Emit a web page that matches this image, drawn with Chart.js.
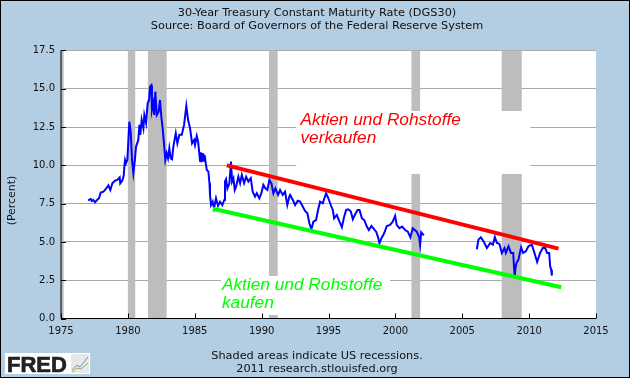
<!DOCTYPE html>
<html>
<head>
<meta charset="utf-8">
<title>30-Year Treasury Constant Maturity Rate</title>
<script src="https://cdn.jsdelivr.net/npm/chart.js@4"></script>
<style>
  body { margin: 0; background: #b3cde3; }
  #wrap { position: relative; width: 630px; height: 378px; overflow: hidden; background: #b3cde3; }
  #frame { position: absolute; left: 0; top: 0; width: 630px; height: 378px; box-sizing: border-box; border: 1px solid #000; pointer-events: none; }
  canvas { position: absolute; left: 0; top: 0; }
  .foot { position: absolute; left: 4px; width: 626px; text-align: center; font: 11.3px "DejaVu Sans"; color: #111; line-height: 13px; }
  #logo { position: absolute; left: 5px; top: 353px; width: 85px; height: 21px; background: #fff; }
  #logo span { position: absolute; left: 2px; top: -1px; font: bold 22px "Liberation Sans"; color: #222; -webkit-text-stroke: 0.7px #222; }
  #logo svg { position: absolute; left: 66px; top: 1px; }
</style>
</head>
<body>
<div id="wrap">
  <canvas id="chart" width="630" height="378"></canvas>
  <div class="foot" style="top:349px">Shaded areas indicate US recessions.</div>
  <div class="foot" style="top:362px">2011 research.stlouisfed.org</div>
  <div id="logo"><span>FRED</span>
    <svg width="18" height="19"><rect width="18" height="19" fill="#e8e8e8"/><polyline points="1,16 6,11 9,13 17,3" fill="none" stroke="#7f93ad"/><polyline points="1,18 6,14 10,15 17,9" fill="none" stroke="#8fae6a"/></svg>
  </div>
  <div id="frame"></div>
</div>
<script>
//Titles
const titleLines = [
  "30-Year Treasury Constant Maturity Rate (DGS30)",
  "Source: Board of Governors of the Federal Reserve System",
];

//30-year rate (null = series not published)
const rateYears = [
  1977.04, 1977.14, 1977.22, 1977.3, 1977.4, 1977.54, 1977.64, 1977.84, 1977.97, 1978.17,
  1978.34, 1978.54, 1978.69, 1978.84, 1979.04, 1979.21, 1979.39, 1979.43, 1979.58, 1979.69,
  1979.73, 1979.79, 1979.86, 1979.96, 1980.11, 1980.21, 1980.31, 1980.41, 1980.51, 1980.61,
  1980.78, 1980.86, 1980.93, 1981.03, 1981.16, 1981.23, 1981.36, 1981.48, 1981.58, 1981.66,
  1981.75, 1981.8, 1981.9, 1981.97, 1982.05, 1982.16, 1982.3, 1982.4, 1982.5, 1982.6,
  1982.7, 1982.8, 1982.9, 1983.0, 1983.1, 1983.2, 1983.3, 1983.4, 1983.58, 1983.7,
  1983.85, 1984.03, 1984.2, 1984.37, 1984.5, 1984.65, 1984.8, 1984.95, 1985.02, 1985.15,
  1985.25, 1985.4, 1985.45, 1985.5, 1985.55, 1985.6, 1985.65, 1985.7, 1985.75, 1985.82,
  1985.9, 1986.02, 1986.1, 1986.14, 1986.22,
  1986.34, 1986.44, 1986.59, 1986.74, 1986.89, 1987.06, 1987.21, 1987.26, 1987.34, 1987.44,
  1987.59, 1987.71, 1987.79, 1987.89, 1987.99, 1988.09, 1988.26, 1988.39, 1988.52, 1988.69,
  1988.84, 1989.01, 1989.19, 1989.33, 1989.51, 1989.64, 1989.83, 1989.98, 1990.13, 1990.28,
  1990.43, 1990.58, 1990.73, 1990.88, 1991.03, 1991.23, 1991.38, 1991.58, 1991.75, 1991.92,
  1992.07, 1992.13, 1992.33, 1992.5, 1992.7, 1992.88, 1993.08, 1993.25, 1993.42, 1993.57,
  1993.72, 1993.87, 1994.07, 1994.22, 1994.37, 1994.57, 1994.82, 1994.99, 1995.17, 1995.32,
  1995.42, 1995.62, 1995.82, 1996.0, 1996.17, 1996.32, 1996.49, 1996.67, 1996.82, 1996.97,
  1997.17, 1997.32, 1997.5, 1997.67, 1997.87, 1998.02, 1998.21, 1998.36, 1998.56, 1998.71,
  1998.81, 1998.96, 1999.16, 1999.36, 1999.6, 1999.8, 1999.98, 2000.1, 2000.3, 2000.5,
  2000.73, 2000.93, 2001.12, 2001.3, 2001.6, 2001.78, 2001.85, 2001.93, 2002.13, 2004,
  2006.09, 2006.21, 2006.39, 2006.59, 2006.84, 2007.09, 2007.29, 2007.44, 2007.59, 2007.78,
  2007.96, 2008.16, 2008.26, 2008.46, 2008.64, 2008.81, 2008.92, 2008.98, 2009.05, 2009.2,
  2009.4, 2009.55, 2009.75, 2009.95, 2010.2, 2010.4, 2010.6, 2010.82, 2011.02, 2011.2,
  2011.35, 2011.5, 2011.57, 2011.65, 2011.7,
];
const rateValues = [
  7.69, 7.78, 7.8, 7.67, 7.74, 7.59, 7.69, 7.85, 8.22, 8.28,
  8.44, 8.7, 8.39, 8.83, 9.0, 9.05, 9.22, 8.83, 9.0, 9.33,
  9.88, 10.35, 10.14, 10.35, 12.85, 12.2, 10.35, 9.49, 10.24, 11.22,
  11.66, 12.64, 11.99, 12.97, 12.42, 13.29, 12.77, 14.05, 14.27, 15.14,
  15.23, 13.62, 14.05, 13.29, 14.81, 13.29, 13.51, 14.27, 13.18, 12.42,
  11.44, 10.35, 10.79, 10.46, 11.12, 10.46, 10.4, 11.22, 12.1, 11.44,
  11.99, 11.99, 12.64, 13.88, 12.97, 12.42, 11.44, 11.66, 11.33, 11.92,
  11.55, 10.29, 10.85, 10.2, 10.8, 10.25, 10.75, 10.3, 10.65, 10.14,
  9.7, 9.59, 8.83, 8.07, 7.41,
  7.63, 7.2, 7.85, 7.35, 7.63, 7.41, 7.74, 8.94, 9.09, 8.5,
  8.83, 10.24, 8.94, 9.16, 8.39, 8.61, 9.26, 8.83, 9.37, 8.83,
  9.26, 8.94, 9.16, 8.28, 7.96, 8.18, 7.85, 8.18, 8.72, 8.5,
  8.39, 9.05, 8.83, 8.18, 8.5, 8.07, 8.39, 8.07, 8.28, 7.41,
  7.96, 8.07, 7.74, 7.41, 7.69, 7.63, 7.3, 7.02, 6.87, 6.22,
  5.83, 6.32, 6.43, 7.09, 7.63, 7.52, 8.18, 7.85, 7.41, 7.09,
  6.54, 6.76, 6.32, 5.96, 6.65, 7.09, 7.13, 6.98, 6.48, 6.76,
  7.09, 7.09, 6.54, 6.43, 6.0, 5.78, 6.04, 5.89, 5.67, 5.3,
  4.91, 5.24, 5.56, 6.04, 6.11, 6.32, 6.7, 6.11, 5.89, 6.0,
  5.78, 5.67, 5.3, 5.89, 5.67, 5.3, 4.8, 5.63, 5.43, null,
  4.52, 5.15, 5.3, 5.04, 4.6, 4.93, 4.82, 5.32, 4.93, 4.87,
  4.28, 4.6, 4.28, 4.71, 4.28, 4.28, 2.65, 3.3, 3.62, 3.84,
  4.65, 4.28, 4.39, 4.71, 4.82, 4.28, 3.69, 4.28, 4.6, 4.6,
  4.28, 4.28, 3.43, 3.19, 2.8,
];

//Trend channel drawn by hand on the original
const redYears = [1987.4, 2012.2];
const redValues = [10.0, 4.56];
const greenYears = [1986.35, 2012.4];
const greenValues = [7.17, 2.04];

//Recessions as [start, end] in years
const recessions = [
  [1973.9, 1975.2],
  [1980.0, 1980.55],
  [1981.5, 1982.9],
  [1990.55, 1991.2],
  [2001.2, 2001.85],
  [2007.95, 2009.45],
];

function toPoints(xs, ys) {
  return xs.map((x, i) => ({ x: x, y: ys[i] }));
}

//Draws the parts Chart.js has no option for: plot background, recession bands,
//white boxes behind the notes, inward ticks and the notes themselves
const fredPlugin = {
  id: "fredPlugin",
  beforeDraw(chart) {
    const a = chart.chartArea;
    chart.ctx.fillStyle = "#fff";
    chart.ctx.fillRect(a.left, a.top, a.right - a.left, a.bottom - a.top);
  },
  beforeDatasetsDraw(chart) {
    const ctx = chart.ctx;
    const a = chart.chartArea;
    const x = chart.scales.x;
    const y = chart.scales.y;

    ctx.save();
    ctx.beginPath();
    ctx.rect(a.left, a.top, a.right - a.left, a.bottom - a.top);
    ctx.clip();
    ctx.fillStyle = "#bdbdbd";
    for (let r of recessions) {
      let x0 = x.getPixelForValue(r[0]);
      let x1 = x.getPixelForValue(r[1]);
      ctx.fillRect(x0, a.top, x1 - x0, a.bottom - a.top);
    }
    //white boxes behind the two notes
    ctx.fillStyle = "#fff";
    ctx.fillRect(x.getPixelForValue(1992.58), y.getPixelForValue(13.55),
      x.getPixelForValue(2010.08) - x.getPixelForValue(1992.58),
      y.getPixelForValue(9.44) - y.getPixelForValue(13.55));
    ctx.fillRect(x.getPixelForValue(1986.97), y.getPixelForValue(2.78),
      x.getPixelForValue(1999.6) - x.getPixelForValue(1986.97),
      y.getPixelForValue(0.23) - y.getPixelForValue(2.78));
    ctx.restore();

    //axis lines and inward ticks
    ctx.save();
    ctx.strokeStyle = "#000";
    ctx.lineWidth = 1;
    ctx.beginPath();
    ctx.moveTo(a.left, a.top);
    ctx.lineTo(a.left, a.bottom);
    ctx.lineTo(a.right, a.bottom);
    for (let t of x.ticks) {
      let px = Math.round(x.getPixelForValue(t.value)) + 0.5;
      ctx.moveTo(px, a.bottom);
      ctx.lineTo(px, a.bottom - 5);
    }
    for (let t of y.ticks) {
      let py = Math.round(y.getPixelForValue(t.value)) + 0.5;
      ctx.moveTo(a.left, py);
      ctx.lineTo(a.left + 5, py);
    }
    ctx.stroke();

    //notes
    ctx.font = 'italic 17.3px "Liberation Sans"';
    ctx.textBaseline = "middle";
    ctx.fillStyle = "#ff0000";
    ctx.fillText("Aktien und Rohstoffe", x.getPixelForValue(1992.9), y.getPixelForValue(12.95));
    ctx.fillText("verkaufen", x.getPixelForValue(1992.9), y.getPixelForValue(11.8));
    ctx.fillStyle = "#00ff00";
    ctx.fillText("Aktien und Rohstoffe", x.getPixelForValue(1987.03), y.getPixelForValue(2.18));
    ctx.fillText("kaufen", x.getPixelForValue(1987.03), y.getPixelForValue(1.0));

    //y axis caption sits below the middle of the axis in the original
    ctx.translate(12, y.getPixelForValue(7.7));
    ctx.rotate(-Math.PI / 2);
    ctx.font = '10.9px "DejaVu Sans"';
    ctx.textAlign = "center";
    ctx.fillStyle = "#111";
    ctx.fillText("(Percent)", 0, 0);
    ctx.restore();
  },
};

const chart = new Chart(document.getElementById("chart").getContext("2d"), {
  type: "line",
  plugins: [fredPlugin],
  data: {
    datasets: [
      {
        label: "Verkaufen",
        data: toPoints(redYears, redValues),
        borderColor: "#ff0000",
        borderWidth: 4,
      },
      {
        label: "Kaufen",
        data: toPoints(greenYears, greenValues),
        borderColor: "#00ff00",
        borderWidth: 4,
      },
      {
        label: "DGS30",
        data: toPoints(rateYears, rateValues),
        borderColor: "#0000ff",
        borderWidth: 2,
        spanGaps: false,
      },
    ],
  },
  options: {
    responsive: false,
    animation: false,
    layout: { padding: { left: 4, right: 0, top: 0, bottom: 0 } },
    elements: { point: { radius: 0 }, line: { tension: 0, borderCapStyle: "butt" } },
    plugins: {
      legend: { display: false },
      tooltip: { enabled: false },
      title: {
        display: true,
        text: titleLines,
        color: "#111",
        font: { family: "DejaVu Sans", size: 11.3, weight: "normal", lineHeight: 1.15 },
        padding: { top: 6.5, bottom: 18 },
      },
    },
    scales: {
      x: {
        type: "linear",
        min: 1975,
        max: 2015,
        grid: { display: false, drawTicks: false },
        border: { display: false },
        ticks: {
          stepSize: 5,
          padding: 7,
          maxRotation: 0,
          color: "#111",
          font: { family: "DejaVu Sans", size: 10 },
          callback: (v) => String(v),
        },
        afterFit: (s) => { s.height = 59.5; },
      },
      y: {
        min: 0,
        max: 17.5,
        grid: { color: "#aaaaaa", lineWidth: 1, drawTicks: false },
        border: { display: false },
        ticks: {
          stepSize: 2.5,
          padding: 6,
          color: "#111",
          font: { family: "DejaVu Sans", size: 10 },
          callback: (v) => v.toFixed(1),
        },
        afterFit: (s) => { s.width = 57; },
      },
      //empty axis, only reserves the blue margin on the right
      spacer: {
        position: "right",
        grid: { display: false, drawTicks: false },
        border: { display: false },
        ticks: { display: false },
        afterFit: (s) => { s.width = 34; },
      },
    },
  },
});
</script>
</body>
</html>
